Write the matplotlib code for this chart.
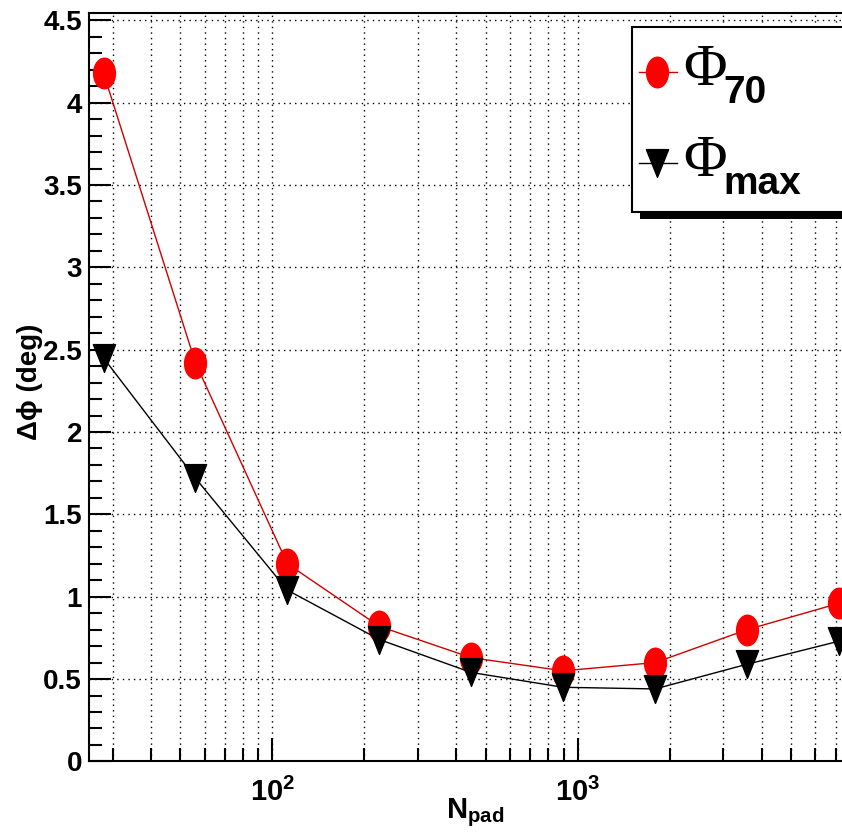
import matplotlib
matplotlib.use('Agg')
import matplotlib.pyplot as plt
from matplotlib import font_manager as fm
from matplotlib.path import Path
from matplotlib.transforms import Affine2D
from matplotlib.lines import Line2D
from matplotlib.patches import Rectangle
from matplotlib.ticker import MultipleLocator, LogLocator, FormatStrFormatter, NullFormatter

# data
n_pad = [28, 56, 112, 224, 448, 896, 1792, 3584, 7168]
phi_70 = [4.18, 2.42, 1.20, 0.82, 0.63, 0.55, 0.60, 0.80, 0.96]
phi_max = [2.45, 1.72, 1.04, 0.74, 0.54, 0.45, 0.44, 0.59, 0.73]
leg_main = ['Φ', 'Φ']
leg_sub = ['70', 'max']

# narrow bold font if there is one, plain bold otherwise
try:
    fm.findfont(fm.FontProperties(family='Liberation Sans Narrow', weight='bold'),
                fallback_to_default=False)
    sans = 'Liberation Sans Narrow'
except ValueError:
    sans = 'Liberation Sans'

plt.rcParams['font.family'] = [sans, 'DejaVu Sans']
plt.rcParams['font.weight'] = 'bold'
plt.rcParams['mathtext.fontset'] = 'custom'
plt.rcParams['mathtext.rm'] = sans + ':bold'
plt.rcParams['mathtext.bf'] = sans + ':bold'
plt.rcParams['mathtext.it'] = sans + ':bold'
plt.rcParams['mathtext.sf'] = sans + ':bold'
plt.rcParams['mathtext.default'] = 'bf'

W, H = 842, 839
def fx(px):
    return px / W
def fy(py):
    return 1 - py / H

fig = plt.figure(figsize=(W / 100, H / 100), dpi=100)
fig.patch.set_facecolor('white')
# the frame runs past the right edge of the picture
ax = fig.add_axes([fx(89), fy(761.4), (880 - 89) / W, (761.4 - 12.7) / H])

# ROOT like markers, a bit taller than wide
ellipse = Path.unit_circle().transformed(Affine2D().scale(1.0, 1.4))
tri = Path([(-0.8, 1), (0.8, 1), (0, -1), (-0.8, 1)],
           [Path.MOVETO, Path.LINETO, Path.LINETO, Path.CLOSEPOLY])
red_style = dict(color='#d00000', lw=1.0, marker=ellipse, ms=22, mfc='#ff0000', mec='#ff0000')
blk_style = dict(color='black', lw=1.0, marker=tri, ms=20, mfc='black', mec='black')

ax.plot(n_pad, phi_70, zorder=3, **red_style)
ax.plot(n_pad, phi_max, zorder=4, **blk_style)

ax.set_xscale('log')
ax.set_xlim(25.1, 9765)
ax.set_ylim(0, 4.546)

ax.yaxis.set_major_locator(MultipleLocator(0.5))
ax.yaxis.set_minor_locator(MultipleLocator(0.1))
ax.yaxis.set_major_formatter(FormatStrFormatter('%g'))
ax.xaxis.set_major_locator(LogLocator(base=10))
ax.xaxis.set_minor_locator(LogLocator(base=10, subs=range(2, 10)))
ax.xaxis.set_minor_formatter(NullFormatter())

ax.tick_params(which='both', direction='in', top=False, right=False,
               width=1.5, colors='black')
ax.tick_params(axis='y', which='major', length=15.5, pad=5, labelsize=20)
ax.tick_params(axis='y', which='minor', length=9)
ax.tick_params(axis='x', which='major', length=16.5, pad=12, labelsize=21)
ax.tick_params(axis='x', which='minor', length=9.5)

for s in ax.spines.values():
    s.set_linewidth(1.5)
ax.spines['right'].set_visible(False)

ax.grid(which='major', axis='both', color='black', lw=1.0, ls=(0, (1, 3)))
ax.grid(which='minor', axis='x', color='black', lw=1.0, ls=(0, (1, 3)))
ax.set_axisbelow(True)

fig.text(fx(30), fy(382), 'Δϕ (deg)', rotation=90, ha='center', va='center',
         fontsize=20, fontweight='bold', family=['Liberation Sans', 'DejaVu Sans'])
fig.text(fx(446), fy(818), r'$N_{pad}$', ha='left', va='baseline', fontsize=21)

# legend box drawn by hand, ROOT style with a hard shadow
fig.add_artist(Rectangle((fx(640), fy(219)), fx(900) - fx(640), fy(34) - fy(219),
                         transform=fig.transFigure, facecolor='black', edgecolor='none', zorder=5))
fig.add_artist(Rectangle((fx(632), fy(212)), fx(900) - fx(632), fy(27) - fy(212),
                         transform=fig.transFigure, facecolor='white', edgecolor='black',
                         lw=1.5, zorder=6))
for style, main, sub, yc in [(red_style, leg_main[0], leg_sub[0], 72),
                             (blk_style, leg_main[1], leg_sub[1], 163)]:
    line_only = {k: v for k, v in style.items() if k != 'marker'}
    fig.add_artist(Line2D([fx(639), fx(677)], [fy(yc), fy(yc)], transform=fig.transFigure,
                          marker='None', zorder=7, **line_only))
    fig.add_artist(Line2D([fx(657)], [fy(yc)], transform=fig.transFigure, zorder=8, **style))
    fig.text(fx(683), fy(yc + 13), main, fontsize=43, ha='left', va='baseline', zorder=9,
             family=['Liberation Serif', 'DejaVu Serif'], fontweight='normal')
    fig.text(fx(723), fy(yc + 31), sub, fontsize=28, ha='left', va='baseline', zorder=9)

fig.savefig('out.png', dpi=100)
